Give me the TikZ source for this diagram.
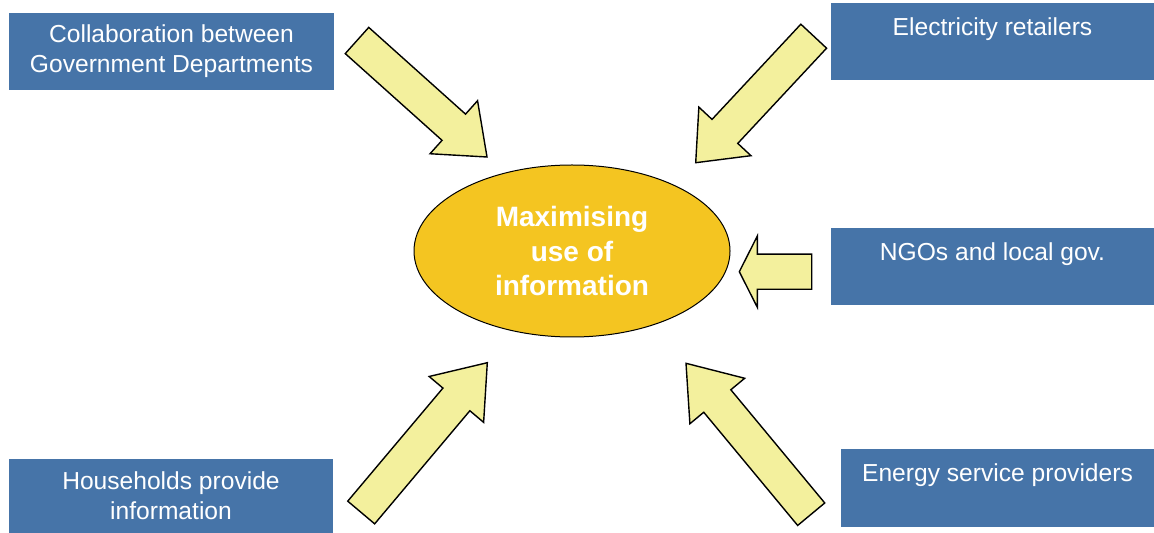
\documentclass[tikz,border=0pt]{standalone}
\usepackage{fontspec}
\setmainfont{Liberation Sans}
\usetikzlibrary{calc,shapes.geometric}

\definecolor{boxblue}{RGB}{70,116,168}
\definecolor{arrowfill}{RGB}{243,240,157}
\definecolor{hubgold}{RGB}{244,197,33}

\newcommand{\shafthw}{8.8pt}
\newcommand{\headhw}{17.8pt}
% fat block arrow: #1 tail, #2 tip, #3 head length
\newcommand{\fatarrow}[3]{%
  \coordinate (neck) at ($(#2)!#3!(#1)$);
  \draw[fat] ($(#1)!\shafthw!90:(#2)$) -- ($(neck)!\shafthw!90:(#2)$)
    -- ($(neck)!\headhw!90:(#2)$) -- (#2)
    -- ($(neck)!\headhw!-90:(#2)$) -- ($(neck)!\shafthw!-90:(#2)$)
    -- ($(#1)!\shafthw!-90:(#2)$) -- cycle;}

\begin{document}
\begin{tikzpicture}[
  x=0.5pt, y=-0.5pt,
  src/.style={fill=boxblue, text=white, align=center, inner sep=0pt,
    font=\fontsize{12.3}{15}\selectfont},
  hub/.style={ellipse, draw=black, line width=0.5pt, fill=hubgold,
    text=white, align=center, inner sep=0pt,
    minimum width=158pt, minimum height=86pt,
    font=\fontsize{14}{17.2}\selectfont\bfseries},
  fat/.style={fill=arrowfill, draw=black, line width=0.7pt, line join=miter}
]
\useasboundingbox (0,0) rectangle (1154,533);

% ── centre ───────────────────────────────────────────────────────────────
\node[hub] (hub) at (572,251) {Maximising\\ use of\\ information};

% ── sources ──────────────────────────────────────────────────────────────
\node[src, minimum width=162.5pt, minimum height=38.5pt] (collab) at (171.5,51.5)
  {Collaboration between\\ Government Departments};
\node[src, minimum width=161.5pt, minimum height=38.75pt] (retail) at (992.5,41.75)
  {Electricity retailers\\ \mbox{}};
\node[src, minimum width=161.5pt, minimum height=38.75pt] (ngo) at (992.5,266.75)
  {NGOs and local gov.\\ \mbox{}};
\node[src, minimum width=162pt, minimum height=37pt] (house) at (171,496)
  {Households provide\\ information};
\node[src, minimum width=156.5pt, minimum height=39pt] (esp) at (997.5,488)
  {Energy service providers\\ \mbox{}};

% ── arrows into the centre ───────────────────────────────────────────────
\coordinate (collab-tail) at (357,40.5);
\coordinate (collab-tip) at (487,157);
\coordinate (retail-tail) at (813.7,36.2);
\coordinate (retail-tip) at (695.7,162.7);
\coordinate (ngo-tail) at (811.7,271.7);
\coordinate (ngo-tip) at (739.3,271.7);
\coordinate (house-tail) at (361.2,512.5);
\coordinate (house-tip) at (487.3,362.7);
\coordinate (esp-tail) at (811.2,514.2);
\coordinate (esp-tip) at (686,363.3);

\fatarrow{collab-tail}{collab-tip}{22.3pt}
\fatarrow{retail-tail}{retail-tip}{21.4pt}
\fatarrow{ngo-tail}{ngo-tip}{9pt}
\fatarrow{house-tail}{house-tip}{24pt}
\fatarrow{esp-tail}{esp-tip}{24.5pt}

\end{tikzpicture}
\end{document}
